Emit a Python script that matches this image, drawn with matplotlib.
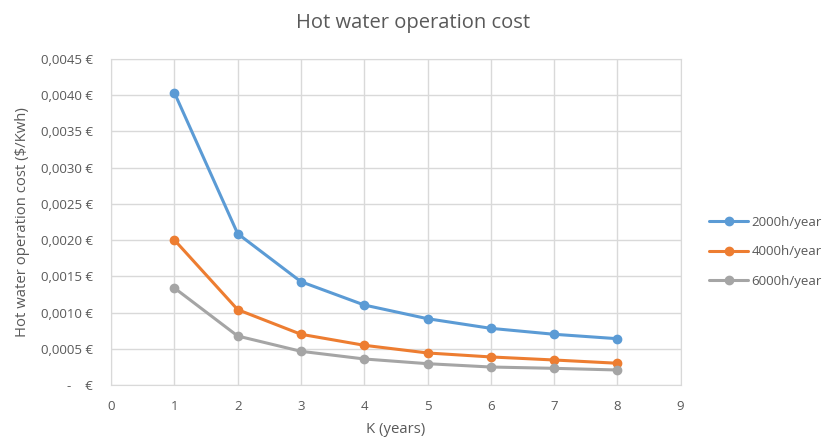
import matplotlib.pyplot as plt
from matplotlib.ticker import FuncFormatter, MultipleLocator

plt.rcParams['font.family'] = ['Open Sans', 'DejaVu Sans']

k_years = [1, 2, 3, 4, 5, 6, 7, 8]
cost_2000 = [0.004035, 0.002089, 0.001426, 0.001104, 0.000915, 0.000782, 0.000700, 0.000639]
cost_4000 = [0.002002, 0.001040, 0.000700, 0.000548, 0.000442, 0.000387, 0.000345, 0.000300]
cost_6000 = [0.001339, 0.000676, 0.000465, 0.000359, 0.000294, 0.000248, 0.000230, 0.000207]
series_labels = ["2000h/year", "4000h/year", "6000h/year"]
colors = ["#5B9BD5", "#ED7D31", "#A5A5A5"]

text_color = "#595959"
grid_color = "#D9D9D9"


def euro_fmt(v, pos):
    if abs(v) < 1e-12:
        return "-    €"
    return f"{v:.4f} €".replace(".", ",")


fig = plt.figure(figsize=(8.23, 4.42), dpi=100)
ax = fig.add_axes([0.135, 0.129, 0.692, 0.7375])

for vals, lab, col in zip([cost_2000, cost_4000, cost_6000], series_labels, colors):
    ax.plot(k_years, vals, color=col, lw=2.2, marker="o", ms=6, label=lab,
            solid_capstyle="round")

ax.set_xlim(0, 9)
ax.set_ylim(0, 0.0045)
ax.xaxis.set_major_locator(MultipleLocator(1))
ax.yaxis.set_major_locator(MultipleLocator(0.0005))
ax.yaxis.set_major_formatter(FuncFormatter(euro_fmt))
ax.grid(True, color=grid_color, lw=1)
ax.set_axisbelow(True)
for s in ax.spines.values():
    s.set_color(grid_color)
ax.tick_params(length=0, labelsize=9.5, colors=text_color)
ax.tick_params(axis="y", pad=13)
ax.tick_params(axis="x", pad=11)

ax.set_xlabel("K (years)", fontsize=10.7, color=text_color, labelpad=6)
ax.set_ylabel("Hot water operation cost ($/Kwh)", fontsize=10.7, color=text_color, labelpad=8)
fig.text(0.502, 0.948, "Hot water operation cost", ha="center", va="center",
         fontsize=14.5, color=text_color)

ax.legend(loc="center left", bbox_to_anchor=(0.862, 0.43),
          bbox_transform=fig.transFigure, frameon=False, borderpad=0,
          borderaxespad=0, fontsize=9.5, labelcolor=text_color,
          handlelength=2.9, labelspacing=1.25, handletextpad=0.3)

fig.savefig("out.png", dpi=100)
